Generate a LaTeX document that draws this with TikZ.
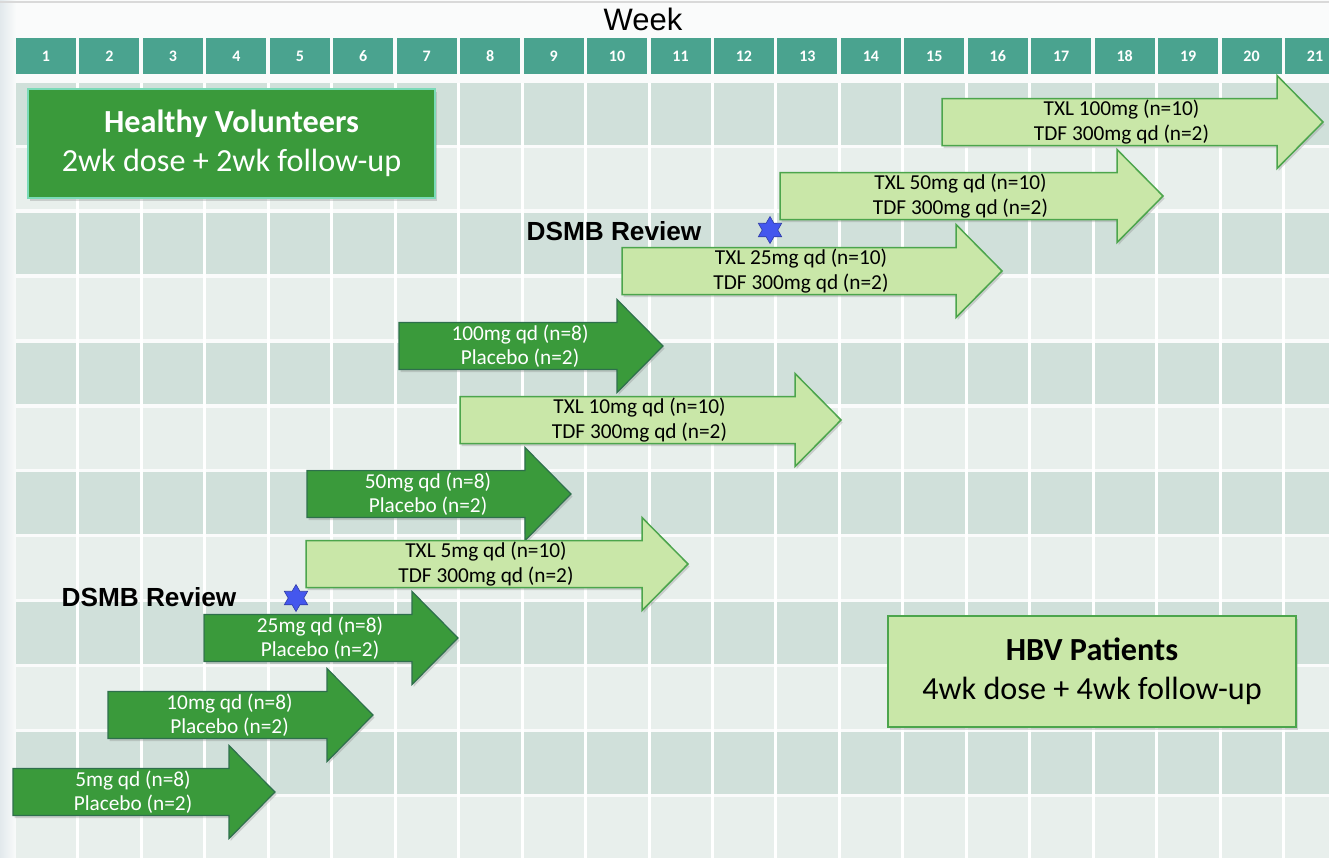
\documentclass[tikz,border=0pt]{standalone}
\usepackage{fontspec}
\setmainfont{Carlito}
\newfontfamily\arialfont{Liberation Sans}
\usetikzlibrary{shapes.geometric,shadows}

\definecolor{pagebg}{HTML}{FAFBFB}
\definecolor{sidebg}{HTML}{E2E9EC}
\definecolor{weekteal}{HTML}{4AA38F}
\definecolor{rowdark}{HTML}{D0E0DA}
\definecolor{rowlight}{HTML}{E8EFEC}
\definecolor{armdark}{HTML}{3A9A3B}
\definecolor{armdarkline}{HTML}{2E6F4C}
\definecolor{armlight}{HTML}{C9E7A8}
\definecolor{armlightline}{HTML}{4CA54C}
\definecolor{starblue}{HTML}{4457EE}

% arm arrow: style, name, tail x, tip x, middle y, label
\newcommand{\trialarm}[6]{%
  \draw[#1] (#3,#5-23.5) -- (#4-46,#5-23.5) -- (#4-46,#5-46.5) -- (#4,#5)
    -- (#4-46,#5+46.5) -- (#4-46,#5+23.5) -- (#3,#5+23.5) -- cycle;
  \node[#1 text] (#2) at ({(#3+#4)/2-11},#5) {#6};
}

\tikzset{
  weekcell/.style={fill=weekteal, text=white, minimum width=60pt, minimum height=36pt,
    inner sep=0pt, font=\fontsize{16}{18}\selectfont\bfseries},
  armshadow/.style={drop shadow={shadow xshift=1.5pt, shadow yshift=-2.5pt, opacity=.3}},
  darkarm/.style={fill=armdark, draw=armdarkline, line width=1.2pt, armshadow},
  darkarm text/.style={text=white, align=center, inner sep=0pt,
    font=\fontsize{21.3}{24.5}\selectfont},
  lightarm/.style={fill=armlight, draw=armlightline, line width=1.5pt, armshadow},
  lightarm text/.style={text=black, align=center, inner sep=0pt,
    font=\fontsize{21.3}{24.5}\selectfont},
  cohort/.style={align=center, inner sep=0pt, line width=1.5pt, armshadow,
    font=\fontsize{32.2}{39}\selectfont},
  review/.style={font=\arialfont\bfseries\fontsize{26.2}{30}\selectfont, inner sep=0pt},
  reviewstar/.style={star, star points=6, star point ratio=1.73, minimum size=27pt,
    inner sep=0pt, fill=starblue, draw=starblue!70!black, line width=.6pt}
}

\begin{document}
\begin{tikzpicture}[x=1pt, y=-1pt]
  \clip (0,0) rectangle (1329,857);
  % page
  \fill[pagebg] (0,0) rectangle (1329,857);
  \shade[left color=sidebg, right color=pagebg] (0,0) rectangle (16,857);
  \draw[black!15, line width=2pt] (0,1.5) -- (1329,1.5);

  % week grid
  \foreach \r in {0,2,...,10}
    \fill[rowdark] (16,{83+64.9*\r}) rectangle (1329,{83+64.9*\r+61.5});
  \foreach \r in {1,3,...,11}
    \fill[rowlight] (16,{83+64.9*\r}) rectangle (1329,{83+64.9*\r+61.5});
  \foreach \k in {1,...,20}
    \fill[white] ({16+63.45*\k-3},83) rectangle ++(3,780);
  \foreach \k in {1,...,21}
    \node[weekcell] (w\k) at ({46+63.45*(\k-1)},56) {\k};
  \node[font=\arialfont\fontsize{31}{36}\selectfont, inner sep=0pt] (week) at (643,19) {Week};

  % cohort boxes
  \node[cohort, fill=armdark, draw=armdark!60!cyan!60, text=white,
    minimum width=407pt, minimum height=109pt] (hv) at (231.5,143.5)
    {\textbf{Healthy Volunteers}\\2wk dose + 2wk follow-up};
  \node[cohort, fill=armlight, draw=armlightline, text=black,
    minimum width=408pt, minimum height=111pt] (hbv) at (1092,671.5)
    {\textbf{HBV Patients}\\4wk dose + 4wk follow-up};

  % HBV patient arms
  \trialarm{lightarm}{txl100}{942}{1323}{122}{TXL 100mg (n=10)\\TDF 300mg qd (n=2)}
  \trialarm{lightarm}{txl50}{780}{1163}{196}{TXL 50mg qd (n=10)\\TDF 300mg qd (n=2)}
  \trialarm{lightarm}{txl25}{622}{1002}{271}{TXL 25mg qd (n=10)\\TDF 300mg qd (n=2)}
  \trialarm{darkarm}{hv100}{399}{663}{346}{100mg qd (n=8)\\Placebo (n=2)}
  \trialarm{lightarm}{txl10}{460}{841}{420}{TXL 10mg qd (n=10)\\TDF 300mg qd (n=2)}
  \trialarm{darkarm}{hv50}{307}{571}{494}{50mg qd (n=8)\\Placebo (n=2)}
  \trialarm{lightarm}{txl5}{306}{688}{564}{TXL 5mg qd (n=10)\\TDF 300mg qd (n=2)}
  \trialarm{darkarm}{hv25}{204}{458}{638}{25mg qd (n=8)\\Placebo (n=2)}
  \trialarm{darkarm}{hv10}{108}{373}{715}{10mg qd (n=8)\\Placebo (n=2)}
  \trialarm{darkarm}{hv5}{13}{275}{792}{5mg qd (n=8)\\Placebo (n=2)}

  % safety reviews
  \node[review] (dsmb2) at (614,231) {DSMB Review};
  \node[reviewstar] (star2) at (770,230) {};
  \node[review] (dsmb1) at (149,597) {DSMB Review};
  \node[reviewstar] (star1) at (296,598) {};
\end{tikzpicture}
\end{document}
